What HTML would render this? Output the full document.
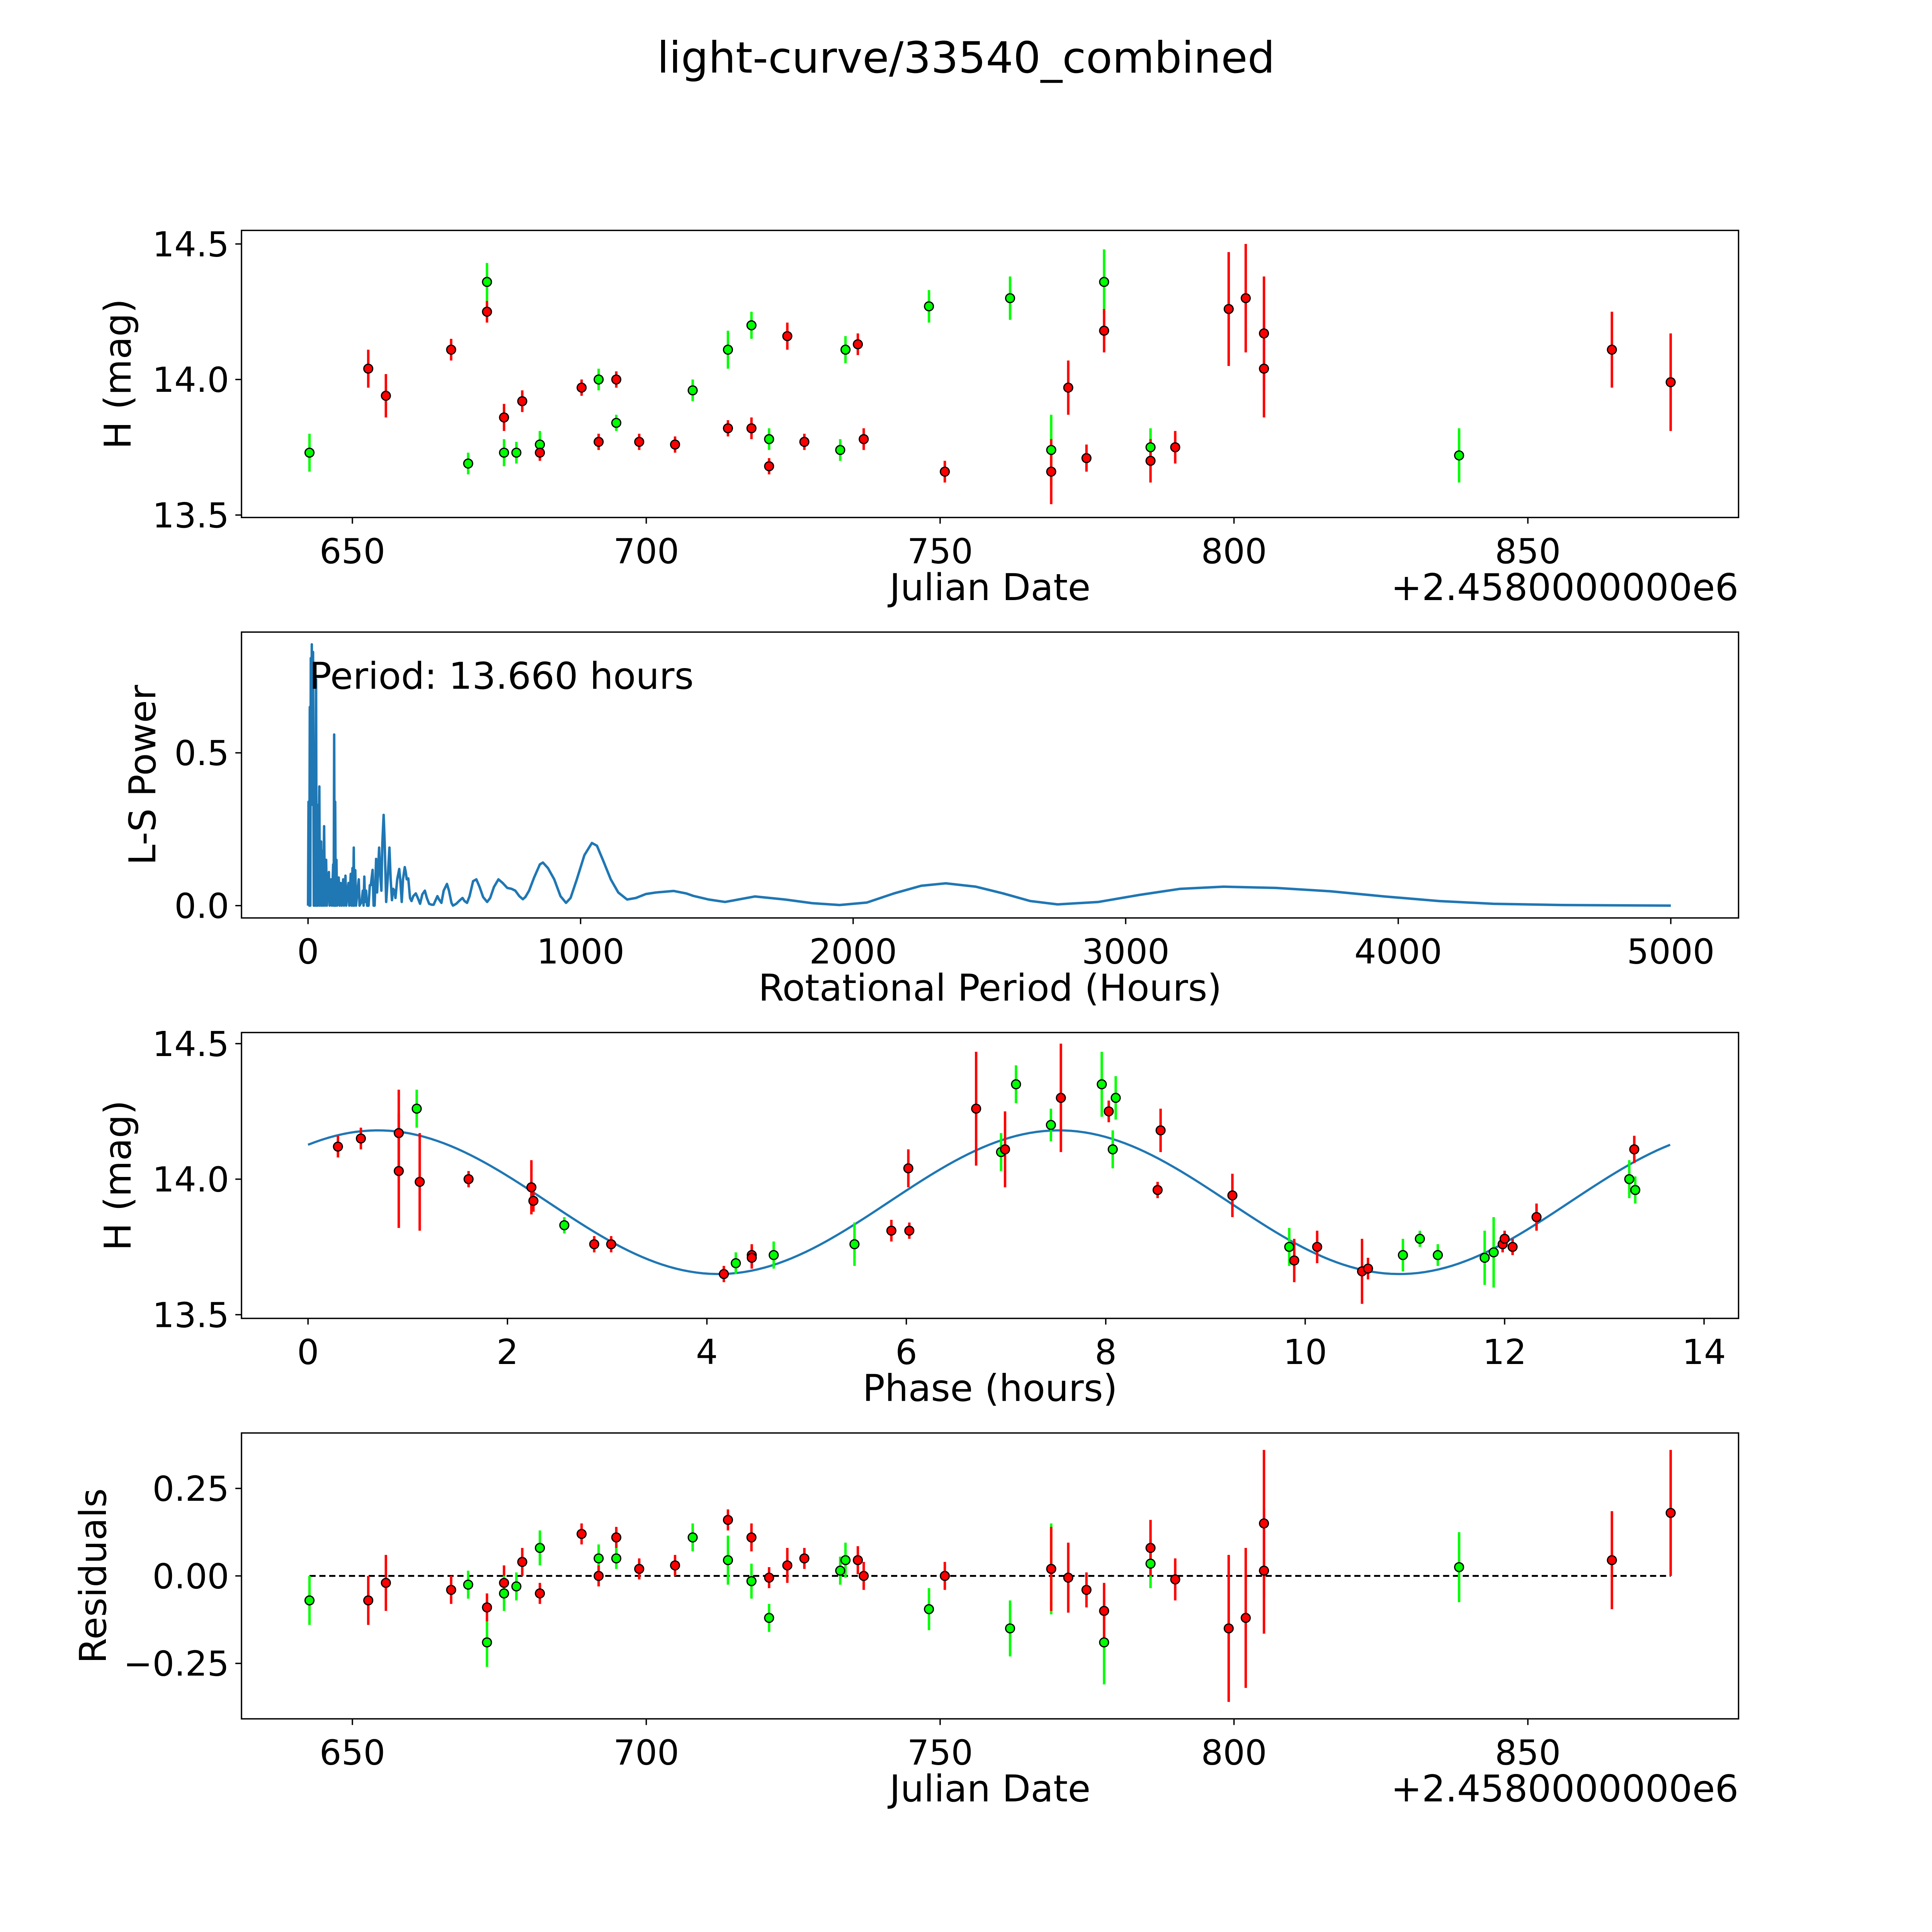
<!DOCTYPE html>
<html><head><meta charset="utf-8"><style>
html,body{margin:0;padding:0;background:#fff;overflow:hidden;width:100%;height:100%}
svg{display:block;width:100vw;height:100vh}
text{font-family:"DejaVu Sans","Liberation Sans",sans-serif;fill:#000}
</style></head><body>
<svg id="fig" xmlns="http://www.w3.org/2000/svg" viewBox="0 0 1568 1568" preserveAspectRatio="none">
<rect width="1568" height="1568" fill="#fff"/>
<text x="784" y="59" font-size="35" text-anchor="middle">light-curve/33540_combined</text>
<g id="g1"></g>
<g id="g2"></g>
<g id="g3"></g>
<g id="g4"></g>
</svg>
<script>
const dates=[642.7,652.7,655.7,666.8,669.7,672.9,672.9,675.8,675.8,677.9,678.9,681.9,681.9,689.0,691.9,691.9,694.9,694.9,698.8,704.9,707.9,713.9,713.9,717.9,717.9,720.9,720.9,724.0,726.9,733.0,733.9,736.0,737.0,748.1,750.8,761.9,768.9,768.9,771.8,774.9,777.9,777.9,785.8,785.8,790.0,799.1,802.0,805.1,805.1,838.3,864.3,874.3];
const mags=[13.73,14.04,13.94,14.11,13.69,14.36,14.25,13.86,13.73,13.73,13.92,13.76,13.73,13.97,14.00,13.77,14.00,13.84,13.77,13.76,13.96,14.11,13.82,14.20,13.82,13.78,13.68,14.16,13.77,13.74,14.11,14.13,13.78,14.27,13.66,14.30,13.74,13.66,13.97,13.71,14.36,14.18,13.75,13.70,13.75,14.26,14.30,14.17,14.04,13.72,14.11,13.99];
const errs=[0.07,0.07,0.08,0.04,0.04,0.07,0.04,0.05,0.05,0.04,0.04,0.05,0.03,0.03,0.04,0.03,0.03,0.03,0.03,0.03,0.04,0.07,0.03,0.05,0.04,0.04,0.03,0.05,0.03,0.04,0.05,0.04,0.04,0.06,0.04,0.08,0.13,0.12,0.10,0.05,0.12,0.08,0.07,0.08,0.06,0.21,0.20,0.21,0.18,0.10,0.14,0.18];
const colors=["g","r","r","r","g","g","r","r","g","g","r","g","r","r","g","r","r","g","r","r","g","g","r","g","r","g","r","r","r","g","g","r","r","g","r","g","g","r","r","r","g","r","g","r","r","r","r","r","r","g","r","r"];
const residuals=[-0.07,-0.07,-0.02,-0.04,-0.025,-0.19,-0.09,-0.02,-0.05,-0.03,0.04,0.08,-0.05,0.12,0.05,0.0,0.11,0.05,0.02,0.03,0.11,0.045,0.16,-0.015,0.11,-0.12,-0.005,0.03,0.05,0.015,0.045,0.045,0.0,-0.095,0.0,-0.15,0.02,0.02,-0.005,-0.04,-0.19,-0.10,0.035,0.08,-0.01,-0.15,-0.12,0.15,0.015,0.025,0.045,0.18];
const phases=[0.30,0.53,0.91,0.91,1.09,1.12,1.61,2.24,2.26,2.57,2.87,3.04,4.17,4.29,4.45,4.45,4.67,5.48,5.85,6.03,6.02,6.70,6.95,6.99,7.10,7.45,7.55,7.96,8.03,8.10,8.07,8.55,8.52,9.27,9.84,9.89,10.12,10.57,10.63,10.98,11.15,11.33,11.80,11.89,11.98,12.00,12.08,12.32,13.25,13.30,13.31];
const phaseMags=[14.12,14.15,14.17,14.03,14.26,13.99,14.00,13.97,13.92,13.83,13.76,13.76,13.65,13.69,13.72,13.71,13.72,13.76,13.81,13.81,14.04,14.26,14.10,14.11,14.35,14.20,14.30,14.35,14.25,14.30,14.11,14.18,13.96,13.94,13.75,13.70,13.75,13.66,13.67,13.72,13.78,13.72,13.71,13.73,13.76,13.78,13.75,13.86,14.00,14.11,13.96];
const phaseErrs=[0.04,0.04,0.16,0.21,0.07,0.18,0.03,0.10,0.04,0.03,0.03,0.03,0.03,0.04,0.04,0.04,0.05,0.08,0.04,0.03,0.07,0.21,0.07,0.14,0.07,0.06,0.20,0.12,0.04,0.08,0.07,0.08,0.03,0.08,0.07,0.08,0.06,0.12,0.04,0.06,0.03,0.04,0.10,0.13,0.03,0.03,0.03,0.05,0.07,0.05,0.05];
const phaseColors=["r","r","r","r","g","r","r","r","r","g","r","r","r","g","r","r","g","g","r","r","r","r","g","r","g","g","r","g","r","g","g","r","r","r","g","r","r","r","r","g","g","g","g","g","r","r","r","r","g","r","g"];
const modelParams=[13.915,0.265,6.83,0.7,13.66]; // mean, amplitude, half-period, peak phase, period
const periods=[0,1.8,4.6,6.5,8.3,10.1,12,13.8,15.7,18.4,21.2,23,25.8,29.5,31.3,34,35.9,41.5,43.3,48,49.8,52.5,55.3,59,61.8,66.4,69.1,76.5,79.3,84.8,87.6,92.2,94.1,95.9,97.7,99.6,101.4,104.2,106.9,112.5,116.1,119.8,123.5,129,131.8,137.3,140.1,148.4,151.1,156.7,159.5,163.1,165,167.8,169.6,173.3,176,186.2,189,196.3,201,203.7,206.5,209.2,212.9,216.6,222.1,226.7,230.4,236.9,240.6,244.3,249.8,253.5,260.8,264.5,269.1,272.8,277.4,281.1,286.7,292.2,298.6,303.2,307.9,312.5,317.1,320.8,327.2,334.6,338.3,343.8,348.4,354.9,358.5,362.2,367.8,374.2,379.7,386.2,395.4,402.8,411.1,419.4,428.6,436,444.3,453.5,460.9,468.2,474.7,480.2,489.4,497.7,509.7,517.1,526.3,531.8,543.8,557.6,566.8,574.2,583.4,592.7,605.6,617.5,629.5,642.4,657.2,668.2,682.1,698.6,714.3,730.9,746.6,760.4,775.2,788.1,797.3,811.1,829.5,850.7,861.8,880.2,903.3,926.3,946.6,963.2,986.2,1013.9,1041.5,1060,1083,1110.7,1138.3,1170.6,1202.8,1239.7,1276.6,1341.1,1387.2,1413,1470,1530,1640,1750,1850,1950,2050,2150,2250,2340,2450,2550,2650,2750,2900,3050,3200,3360,3550,3750,3950,4150,4350,4600,5000];
const powers=[0,0.34,0,0.65,0,0.81,0.45,0.855,0.33,0.83,0,0.42,0,0.74,0,0.33,0,0.39,0,0.21,0,0.18,0,0.26,0,0.15,0,0.11,0,0.086,0,0.135,0,0.56,0,0.34,0,0.15,0,0.092,0,0.074,0,0.086,0,0.098,0,0.074,0,0.104,0,0.123,0,0.19,0,0.116,0,0.086,0,0.012,0.049,0,0.095,0.012,0.049,0,0,0.067,0.067,0.117,0,0,0.153,0.043,0.19,0.11,0.049,0.208,0.297,0.208,0.012,0.086,0.19,0.086,0.018,0.055,0.049,0.025,0.086,0.12,0.086,0.012,0.086,0.126,0.11,0.086,0.089,0.025,0.015,0.031,0.04,0.025,0.006,0.037,0.049,0.025,0.006,0.003,0.003,0.018,0.031,0.021,0.009,0.049,0.071,0.049,0.009,0,0.006,0.018,0.025,0.015,0.009,0.031,0.08,0.086,0.061,0.028,0.012,0.025,0.061,0.086,0.074,0.058,0.055,0.049,0.031,0.021,0.028,0.049,0.092,0.135,0.141,0.123,0.086,0.031,0.009,0.025,0.086,0.165,0.205,0.196,0.147,0.086,0.043,0.02,0.025,0.038,0.043,0.048,0.04,0.032,0.02,0.012,0.03,0.02,0.008,0.002,0.01,0.04,0.065,0.073,0.062,0.04,0.015,0.004,0.012,0.035,0.055,0.062,0.058,0.047,0.03,0.015,0.006,0.002,0];
const jdTicks=[650,700,750,800,850];
const magTicks=[13.5,14.0,14.5];
const periodTicks=[0,1000,2000,3000,4000,5000];
const powerTicks=[0.0,0.5];
const phaseTicks=[0,2,4,6,8,10,12,14];
const residTicks=[-0.25,0.00,0.25];

const NS="http://www.w3.org/2000/svg";
function mk(parent,tag,attrs,txt){const e=document.createElementNS(NS,tag);for(const k in attrs)e.setAttribute(k,attrs[k]);if(txt!==undefined)e.textContent=txt;parent.appendChild(e);return e;}
function lin(d0,d1,p0,p1){return v=>p0+(v-d0)*(p1-p0)/(d1-d0);}
const L=196,R=1411;
function frame(g,top,bot,xs,ys,xt,yt,xfmt,yfmt,xlabel,ylabel,offset){
  const ax=mk(g,'g',{});
  
  
  mk(ax,'rect',{x:L,y:top,width:R-L,height:bot-top,fill:'none',stroke:'#000','stroke-width':1.1});
  xt.forEach(v=>{const x=xs(v);
    const t=mk(ax,'line',{x1:x,x2:x,y1:bot,y2:bot+5,stroke:'#000','stroke-width':1.1});
    
    const l=mk(ax,'text',{x:x,y:bot+37,'font-size':28,'text-anchor':'middle'},xfmt(v));
    });
  yt.forEach(v=>{const y=ys(v);
    const t=mk(ax,'line',{x1:L-5,x2:L,y1:y,y2:y,stroke:'#000','stroke-width':1.1});
    
    const l=mk(ax,'text',{x:L-10,y:y+10,'font-size':28,'text-anchor':'end'},yfmt(v));
    });
  const xl=mk(ax,'text',{x:(L+R)/2,y:bot+67,'font-size':30,'text-anchor':'middle'},xlabel);
  
  const ym=(top+bot)/2;
  const yl=mk(ax,'text',{x:0,y:0,'font-size':30,'text-anchor':'middle',transform:`translate(${ylabel[1]},${ym}) rotate(-90)`},ylabel[0]);
  
  if(offset){const o=mk(ax,'text',{x:R,y:bot+67,'font-size':30,'text-anchor':'end'},offset);
    }
}
const COL={r:'#ff0000',g:'#00ff00'};
function points(g,xv,yv,ev,cv,xs,ys,name){
  xv.forEach((x0,i)=>{const x=xs(x0);
    const b=mk(g,'line',{x1:x,x2:x,y1:ys(yv[i]-ev[i]),y2:ys(yv[i]+ev[i]),stroke:COL[cv[i]],'stroke-width':2});
    });
  xv.forEach((x0,i)=>{
    const c=mk(g,'circle',{cx:xs(x0),cy:ys(yv[i]),r:3.6,fill:COL[cv[i]],stroke:'#000','stroke-width':1});
    });
}
const jx=lin(650,850,286,1240);
const g1=document.getElementById('g1');
const y1=lin(13.5,14.5,418,198);
frame(g1,187,420,jx,y1,jdTicks,magTicks,v=>v,v=>v.toFixed(1),'Julian Date',['H (mag)',106],'+2.4580000000e6');
points(g1,dates,mags,errs,colors,jx,y1,'observation');
const g2=document.getElementById('g2');
const px=lin(0,5000,250,1356), py=lin(0,0.5,735,611);
frame(g2,513,745,px,py,periodTicks,powerTicks,v=>v,v=>v.toFixed(1),'Rotational Period (Hours)',['L-S Power',126]);
const pl=mk(g2,'polyline',{points:periods.map((p,i)=>px(p)+','+py(powers[i])).join(' '),fill:'none',stroke:'#1f77b4','stroke-width':2,'stroke-linejoin':'round'});

const pt=mk(g2,'text',{x:251,y:559,'font-size':30},'Period: 13.660 hours');

const g3=document.getElementById('g3');
const phx=lin(0,14,250,1383), y3=lin(13.5,14.5,1067,847);
frame(g3,838,1070,phx,y3,phaseTicks,magTicks,v=>v,v=>v.toFixed(1),'Phase (hours)',['H (mag)',106]);
const mp=[];for(let i=0;i<=200;i++){const t=modelParams[4]*i/200;mp.push(phx(t)+','+y3(modelParams[0]+modelParams[1]*Math.cos(2*Math.PI*(t-modelParams[3])/modelParams[2])));}
const ml=mk(g3,'polyline',{points:mp.join(' '),fill:'none',stroke:'#1f77b4','stroke-width':1.8});

points(g3,phases,phaseMags,phaseErrs,phaseColors,phx,y3,'phased-observation');
const g4=document.getElementById('g4');
const y4=lin(0,0.25,1279,1208);
frame(g4,1163,1395,jx,y4,jdTicks,residTicks,v=>v,v=>(v<0?'\u2212':'')+Math.abs(v).toFixed(2),'Julian Date',['Residuals',86],'+2.4580000000e6');
const zl=mk(g4,'line',{x1:jx(dates[0]),x2:jx(dates[dates.length-1]),y1:y4(0),y2:y4(0),stroke:'#000','stroke-width':1.5,'stroke-dasharray':'5,3'});

points(g4,dates,residuals,errs,colors,jx,y4,'residual');
</script>
</body></html>
